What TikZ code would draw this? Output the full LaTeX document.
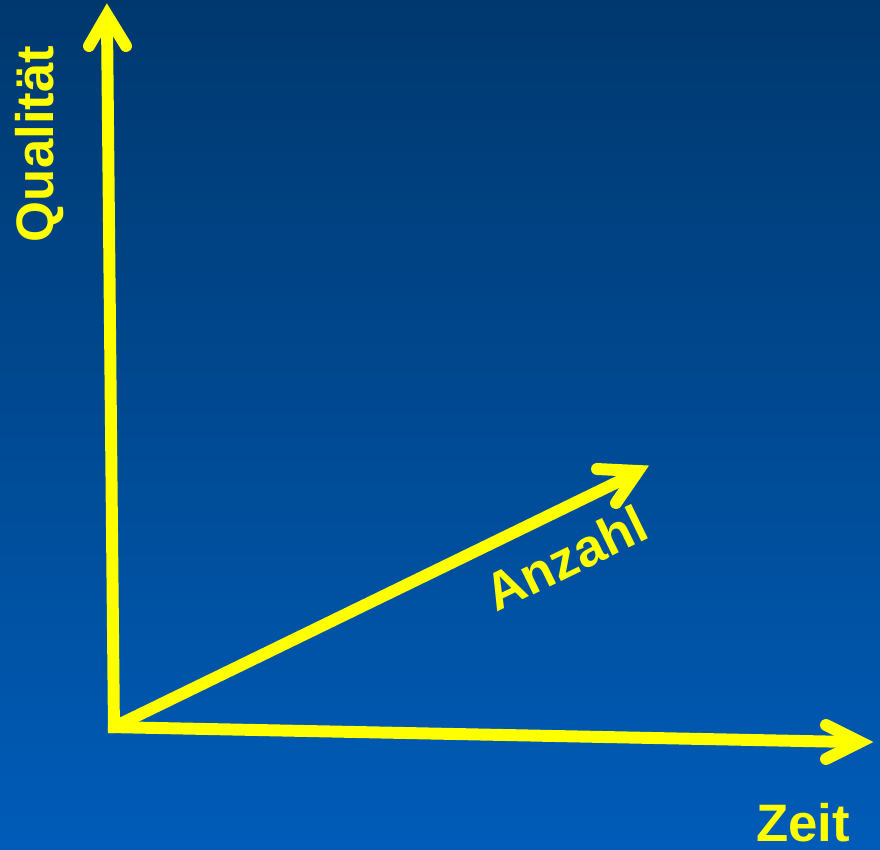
\documentclass[tikz,border=0pt]{standalone}
\usepackage{fontspec}
\setmainfont{Liberation Sans}
\definecolor{bgtop}{RGB}{0,56,110}
\definecolor{bgbot}{RGB}{0,92,184}
\definecolor{ax}{RGB}{255,255,0}
\begin{document}
\begin{tikzpicture}[x=0.03cm,y=-0.03cm,
  shaft/.style={draw=ax,line width=10.2pt,line cap=butt},
  barb/.style={draw=ax,line width=10.2pt,line cap=round,line join=miter},
  lbl/.style={text=ax,font=\fontsize{45}{45}\selectfont\bfseries,inner sep=0pt}]
\fill[top color=bgtop,bottom color=bgbot] (0,0) rectangle (880,849);
\useasboundingbox (0,0) rectangle (880,849);
% coordinates
\coordinate (O) at (114,727);
\coordinate (Ov) at (114,733);
\coordinate (Oh) at (108,727);
\coordinate (Vend) at (107,22);
\coordinate (Vtip) at (107,15);
\coordinate (Vb1) at (89,46);
\coordinate (Vb2) at (126,46);
\coordinate (Hend) at (852,742);
\coordinate (Htip) at (860,742);
\coordinate (Hb1) at (826,725);
\coordinate (Hb2) at (826,759);
\coordinate (Dend) at (630,476);
\coordinate (Dtip) at (638,471);
\coordinate (Db1) at (597,469);
\coordinate (Db2) at (616,503);
% arrows
\draw[shaft] (Ov) -- (Vend);
\draw[barb] (Vb1) -- (Vtip) -- (Vb2);
\draw[shaft] (Oh) -- (Hend);
\draw[barb] (Hb1) -- (Htip) -- (Hb2);
\draw[shaft] (O) -- (Dend);
\draw[barb] (Db1) -- (Dtip) -- (Db2);
% labels
\node[lbl,rotate=90] (q) at (40,144) {Qualität};
\node[lbl] (z) at (803,823) {Zeit};
\node[lbl,rotate=26] (a) at (566,558) {Anzahl};
\end{tikzpicture}
\end{document}
